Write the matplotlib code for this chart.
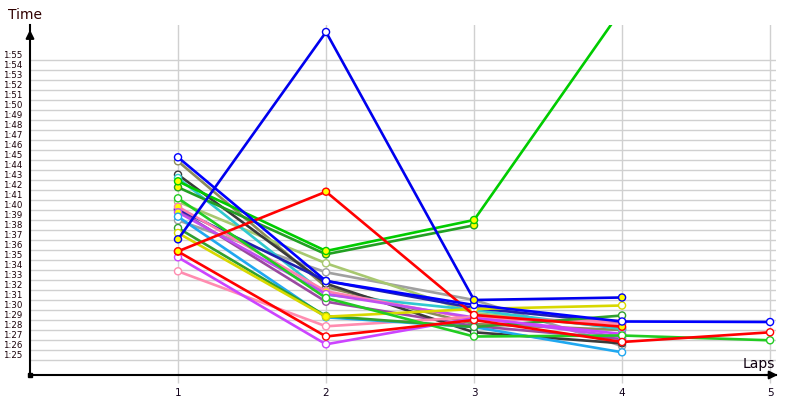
import matplotlib
matplotlib.use("Agg")
import matplotlib.pyplot as plt
import matplotlib.transforms as mtransforms

# lap times in seconds, one list per driver (lap 1, lap 2, ...)
laps = [1, 2, 3, 4, 5]
grid_secs = list(range(85, 116))          # 1:25 .. 1:55
grid_labels = ["1:%02d" % (s - 60) for s in grid_secs]

blue_a = [97.07, 117.8, 91.0, 91.25]
blue_b = [105.27, 92.9, 90.5, 88.85, 88.8]
green_a = [102.87, 95.9, 99.0, 120.1]
green_b = [102.27, 95.57, 98.47]
red_a = [95.87, 101.83, 89.5, 88.33]
red_b = [95.85, 87.35, 89.0, 86.8, 87.77]
magenta_a = [95.27, 86.57, 89.2, 87.6]
pink_a = [93.87, 88.37, 89.3, 88.6]
olive = [104.87, 92.3, 88.6, 88.0]
dark_gray = [103.53, 92.63, 87.77, 86.67]
cyan = [103.2, 91.53, 90.0, 88.1]
lime = [101.17, 91.2, 87.35, 87.45, 86.97]
yellow_green = [100.83, 94.67, 89.7, 88.2]
pink_b = [100.33, 91.87, 89.1, 88.9]
navy = [100.1, 92.9, 90.2, 88.7]
magenta_b = [99.77, 91.6, 89.25, 87.3]
light_blue = [99.33, 89.27, 88.3, 85.77]
gray = [98.97, 93.77, 91.0, 86.4]
forest = [98.2, 89.4, 88.3, 89.45]
yellow = [97.7, 89.33, 90.1, 90.45]
purple = [100.0, 90.83, 88.4, 87.1]

# (values, colour, laps drawn with a yellow marker)
series = [
    (gray, "#a0a0a0", []),
    (olive, "#8c8c5a", []),
    (yellow_green, "#a8c870", []),
    (purple, "#9a4aa0", []),
    (dark_gray, "#3a3a3a", []),
    (cyan, "#30c8d0", []),
    (navy, "#2020b0", []),
    (pink_b, "#ff80b0", [1, 2]),
    (magenta_b, "#c050f0", [1, 3]),
    (pink_a, "#ff8cb0", []),
    (light_blue, "#20a8f0", []),
    (forest, "#30a030", [2]),
    (yellow, "#d8d800", [2]),
    (magenta_a, "#cc44ff", []),
    (lime, "#22cc22", []),
    (green_b, "#22a022", [1, 2, 3]),
    (green_a, "#00cc00", [1, 2, 3]),
    (red_b, "#ff0000", []),
    (red_a, "#ff0000", [1, 2, 4]),
    (blue_b, "#0000ff", []),
    (blue_a, "#0000ee", [1, 3, 4]),
]

fig = plt.figure(figsize=(8, 4), dpi=100)
ax = fig.add_axes([30 / 800, 25 / 400, 746 / 800, 350 / 400])
ax.set_xlim(0, 5.04)
ax.set_ylim(83.5, 118.5)

for z, (vals, col, filled) in enumerate(series):
    xs = laps[:len(vals)]
    ax.plot(xs, vals, color=col, lw=1.9, zorder=3 + z)
    faces = ["#ffff00" if x in filled else "white" for x in xs]
    ax.scatter(xs, vals, s=26, facecolors=faces, edgecolors=col,
               linewidths=1.0, zorder=3 + z)

# grid
ax.set_yticks(grid_secs)
ax.set_yticklabels(grid_labels, fontsize=6.2, color="#1a0008")
ax.set_xticks(laps)
ax.set_xticklabels([str(l) for l in laps], fontsize=7.5, color="#10001a")
ax.grid(True, color="#d0d0d0", lw=1)
ax.set_axisbelow(True)
ax.tick_params(axis="y", length=0, pad=5.5)
ax.tick_params(axis="x", length=6, color="#d0d0d0", width=1, pad=3)
# labels sit above their gridline
off = mtransforms.ScaledTranslation(0, 0.05, fig.dpi_scale_trans)
for lbl in ax.get_yticklabels():
    lbl.set_transform(lbl.get_transform() + off)

for s in ["top", "right"]:
    ax.spines[s].set_visible(False)
ax.spines["left"].set_linewidth(1.5)
ax.spines["bottom"].set_linewidth(1.5)
ax.spines["left"].set_zorder(50)
ax.spines["bottom"].set_zorder(50)

ax.annotate("", xy=(0, 0.994), xytext=(0, 0.95), xycoords="axes fraction",
            arrowprops=dict(arrowstyle="-|>", color="k", lw=1.5,
                            mutation_scale=12))
ax.annotate("", xy=(1.006, 0), xytext=(0.98, 0), xycoords="axes fraction",
            arrowprops=dict(arrowstyle="-|>", color="k", lw=1.5,
                            mutation_scale=12))
ax.plot(0, 83.5, "s", color="k", ms=3, clip_on=False, zorder=60)

fig.text(8 / 800, 1 - 15 / 400, "Time", fontsize=10, color="#300000",
         ha="left", va="center")
fig.text(775 / 800, 1 - 364 / 400, "Laps", fontsize=10, color="#100010",
         ha="right", va="center")

fig.savefig("out.png", dpi=100)
